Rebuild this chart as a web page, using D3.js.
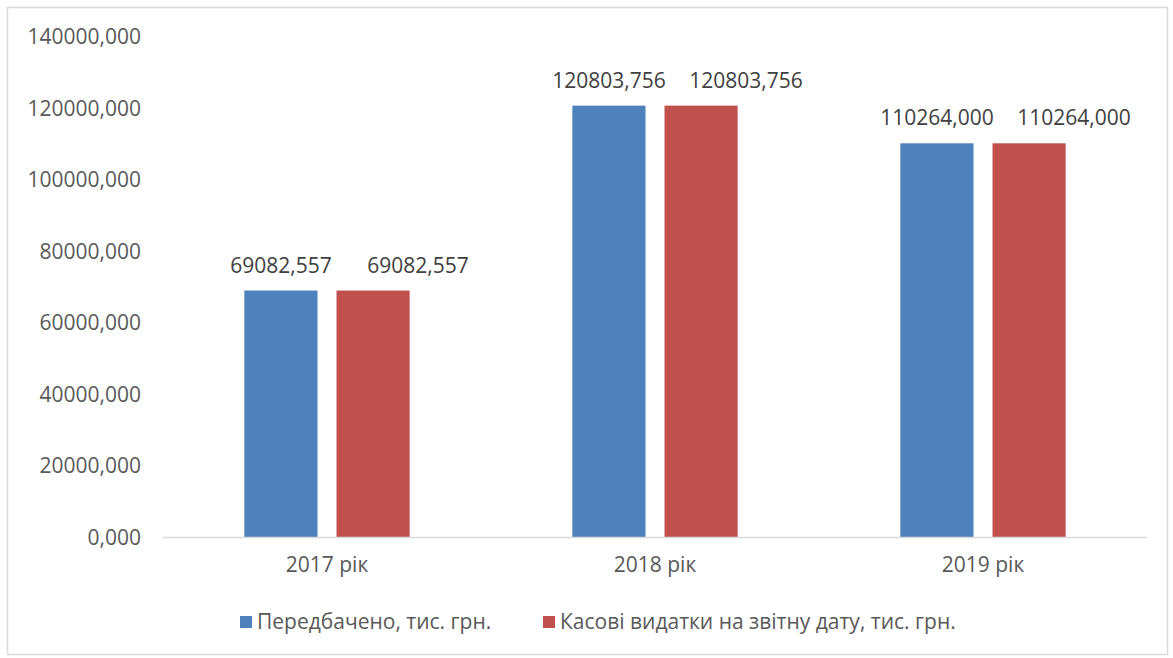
<!DOCTYPE html>
<html>
<head>
<meta charset="utf-8">
<script src="https://cdn.jsdelivr.net/npm/d3@7"></script>
<style>
    body { margin: 0; background: #fff; }
    text { font-family: 'Open Sans', sans-serif; }
</style>
</head>
<body>
<div id="chart"></div>
<script>
    'use strict'

    // data
    const years = ['2017 рік', '2018 рік', '2019 рік'];
    const planned = [69082.557, 120803.756, 110264.000];
    const spent = [69082.557, 120803.756, 110264.000];
    const seriesNames = ['Передбачено, тис. грн.', 'Касові видатки на звітну дату, тис. грн.'];
    const seriesColors = ['#4f81bd', '#c0504d'];
    const yTicks = [0, 20000, 40000, 60000, 80000, 100000, 120000, 140000];

    const width = 1173;
    const height = 658;
    const margin = { top: 37, right: 26, bottom: 120, left: 163 };

    const fmt = v => v.toFixed(3).replace('.', ',');

    const svg = d3.select('#chart')
        .append('svg')
        .attr('width', width)
        .attr('height', height);

    // chart frame
    svg.append('rect')
        .attr('x', 7.5)
        .attr('y', 7.5)
        .attr('width', 1160)
        .attr('height', 647)
        .style('fill', 'none')
        .style('stroke', '#d9d9d9')
        .style('stroke-width', 1.5);

    const x = d3.scaleBand()
        .domain(years)
        .range([margin.left, width - margin.right]);

    const y = d3.scaleLinear()
        .domain([0, 140000])
        .range([height - margin.bottom - 0.5, margin.top]);

    const barW = x.step() * 0.223;
    const gap = 19;
    const inner = d3.scaleOrdinal()
        .domain([0, 1])
        .range([-gap / 2 - barW, gap / 2]);

    // y axis labels
    const yAxis = svg.append('g')
        .attr('transform', `translate(${margin.left - 22},0)`)
        .call(d3.axisLeft(y).tickValues(yTicks).tickFormat(fmt).tickSize(0).tickPadding(0));
    yAxis.select('.domain').remove();
    yAxis.selectAll('text')
        .style('font-size', '21px')
        .style('fill', '#595959')
        .style('font-family', "'Open Sans', sans-serif");

    const series = [planned, spent];
    const rows = years.map((yr, i) => ({ yr, values: series.map(s => s[i]) }));

    const groups = svg.selectAll('.group')
        .data(rows)
        .enter().append('g')
        .attr('class', 'group')
        .attr('transform', d => `translate(${x(d.yr) + x.bandwidth() / 2},0)`);

    groups.selectAll('rect')
        .data(d => d.values.map((v, k) => ({ v, k })))
        .enter().append('rect')
        .attr('x', d => inner(d.k))
        .attr('y', d => y(d.v))
        .attr('width', barW)
        .attr('height', d => y(0) - y(d.v))
        .style('fill', d => seriesColors[d.k]);

    // value labels (second series labels sit shifted right, as in the original)
    groups.selectAll('.lbl')
        .data(d => d.values.map((v, k) => ({ v, k })))
        .enter().append('text')
        .attr('class', 'lbl')
        .attr('x', d => inner(d.k) + barW / 2 + (d.k === 1 ? 45 : 0))
        .attr('y', d => y(d.v) - 18)
        .attr('text-anchor', 'middle')
        .style('font-size', '21px')
        .style('fill', '#404040')
        .text(d => fmt(d.v));

    // baseline
    svg.append('line')
        .attr('x1', margin.left)
        .attr('x2', width - margin.right)
        .attr('y1', y(0))
        .attr('y2', y(0))
        .style('stroke', '#d9d9d9')
        .style('stroke-width', 1.5);

    // category labels
    const xAxis = svg.append('g')
        .attr('transform', `translate(0,${y(0)})`)
        .call(d3.axisBottom(x).tickSize(0).tickPadding(20));
    xAxis.select('.domain').remove();
    xAxis.selectAll('text')
        .style('font-size', '21px')
        .style('fill', '#595959')
        .style('font-family', "'Open Sans', sans-serif");

    // legend
    const legendX = [240, 543];
    const legend = svg.selectAll('.legend')
        .data(seriesNames)
        .enter().append('g')
        .attr('class', 'legend')
        .attr('transform', (d, i) => `translate(${legendX[i]},622)`);

    legend.append('rect')
        .attr('x', 0)
        .attr('y', -6)
        .attr('width', 12)
        .attr('height', 12)
        .style('fill', (d, i) => seriesColors[i]);

    legend.append('text')
        .attr('x', 17)
        .attr('y', 0)
        .attr('dy', '0.35em')
        .style('font-size', '21px')
        .style('fill', '#595959')
        .text(d => d);
</script>
</body>
</html>
